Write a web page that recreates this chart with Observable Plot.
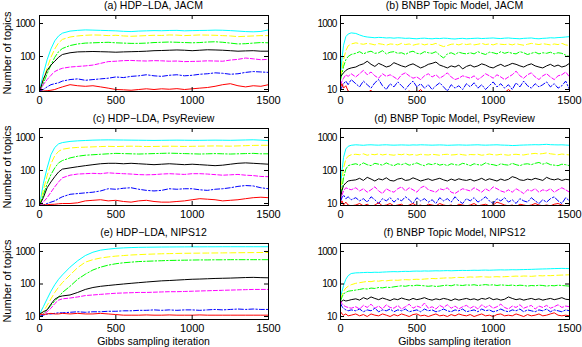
<!DOCTYPE html>
<html><head><meta charset="utf-8">
<script src="https://cdn.jsdelivr.net/npm/d3@7"></script>
<script src="https://cdn.jsdelivr.net/npm/@observablehq/plot@0.6"></script>
<style>
body{margin:0;background:#fff;}
#chart{position:relative;width:582px;height:347px;font-family:"Liberation Sans",Arial,sans-serif;color:#000;overflow:hidden;}
#chart svg{position:absolute;}
.title,.xlab{position:absolute;font-size:10.5px;white-space:nowrap;transform:translate(-50%,-50%);}
.ylab{position:absolute;font-size:11px;white-space:nowrap;transform:translate(-50%,-50%) rotate(-90deg);}
g[aria-label="y-axis tick label"] text{letter-spacing:-0.8px;}
</style></head><body><div id="chart"></div>
<script>
// ---------- data ----------
const xTickValues = [0, 500, 1000, 1500];
const yTickValues = [10, 100, 1000];
const titles = ["(a) HDP\u2212LDA, JACM", "(b) BNBP Topic Model, JACM", "(c) HDP\u2212LDA, PsyReview",
                "(d) BNBP Topic Model, PsyReview", "(e) HDP\u2212LDA, NIPS12", "(f) BNBP Topic Model, NIPS12"];
const yLabel = "Number of topics";
const xLabel = "Gibbs sampling iteration";

const iterHDP = [1, 25, 50, 75, 100, 125, 150, 200, 250, 300, 350, 400, 450, 500, 550, 600, 650, 700, 750, 800,
  850, 900, 950, 1000, 1050, 1100, 1150, 1200, 1250, 1300, 1350, 1400, 1450, 1500];
const iterBNBP = [1, 10, 20, 35, 50, 70, 100, 125, 150, 175, 200, 225, 250, 275, 300, 325, 350, 375, 400, 425,
  450, 475, 500, 525, 550, 575, 600, 625, 650, 675, 700, 725, 750, 775, 800, 825, 850, 875, 900, 925, 950, 975,
  1000, 1025, 1050, 1075, 1100, 1125, 1150, 1175, 1200, 1225, 1250, 1275, 1300, 1325, 1350, 1375, 1400, 1425,
  1450, 1475, 1500];

// (a) HDP-LDA, JACM
const aCyan = [10,30,80,170,300,420,510, 590,620,640,630,620,610,600,580,570,590,600,610,605,615,620,600,610,615,620,630,625,610,590,570,560,575,640];
const aYellow = [9,20,45,95,170,260,330, 390,420,440,450,445,430,440,420,410,420,430,440,435,450,445,430,440,450,445,440,430,420,400,410,420,430,430];
const aGreen = [9,15,30,55,95,140,175, 215,240,255,260,265,270,260,255,250,250,255,265,270,275,270,265,260,265,275,280,270,255,240,245,255,265,260];
const aBlack = [9,20,38,55,72,95,115, 130,138,140,142,140,138,135,138,140,142,145,150,152,155,158,155,150,155,160,158,155,150,145,148,150,145,145];
const aMagenta = [9,14,20,27,35,40,44, 48,50,52,55,62,70,72,75,76,74,73,75,74,72,73,70,71,72,74,73,72,78,82,90,85,80,82];
const aBlue = [9,10,12,14,15,16,18, 20,21,19,20,21,22,24,23,25,26,28,26,25,27,28,26,27,29,30,32,31,29,30,33,35,34,33];
const aRed = [8.8,9,9.2,9.5,10,11,12, 14,13,12.5,13,12,11,10,9.8,9.5,10,10.5,10,10.5,10.2,10.6,10,10.5,11,11.5,12.5,14,15,13,12,13,12.5,14];

// (c) HDP-LDA, PsyReview
const cCyan = [9,40,120,300,500,640,700, 760,790,810,830,840,845,840,835,830,825,820,815,820,825,830,825,820,820,825,830,825,820,830,840,850,830,800];
const cYellow = [9,25,70,160,280,380,440, 480,500,510,520,530,540,530,540,545,540,530,535,540,545,540,535,540,545,550,555,550,545,555,565,575,580,580];
const cGreen = [9,18,40,75,120,170,200, 240,270,290,300,310,320,330,325,320,315,320,325,330,335,330,325,320,315,320,325,320,315,320,325,330,320,320];
const cBlack = [9,15,30,45,65,90,110, 120,130,140,150,160,165,165,160,165,160,155,150,155,160,155,150,155,150,145,140,145,155,165,170,165,160,155];
const cMagenta = [8.8,11,15,22,32,45,60, 72,78,80,82,80,85,82,80,78,75,74,75,78,80,78,76,80,80,78,75,72,74,76,72,70,66,65];
const cBlue = [8.8,9,10,11,12,14,16, 19,20,21,22,24,28,27,29,30,27,25,24,25,28,27,28,28,26,25,27,28,30,33,35,34,30,28];
const cRed = [8.8,9,9.2,9.4,9.5,9.8,10, 10,10.5,12,12.5,13,12,12.5,11.5,11,12,12.5,11.5,11,11,11.5,12,13,14,13.5,13,12,12.5,13,14,15,15.5,15];

// (e) HDP-LDA, NIPS12
const eCyan = [12,20,35,60,95,140,190, 330,520,750,950,1100,1180,1250,1290,1320,1340,1350,1360,1370,1375,1380,1385,1390,1390,1395,1395,1400,1400,1400,1400,1400,1400,1400];
const eYellow = [11,14,22,35,55,80,110, 190,320,470,560,630,680,720,750,780,800,820,835,850,860,870,880,885,890,895,900,905,910,915,920,925,930,930];
const eGreen = [10,12,16,22,30,40,55, 85,140,200,270,330,380,420,450,470,490,500,510,520,530,535,540,545,550,550,555,555,560,560,560,560,560,560];
const eBlack = [12,14,16,24,34,40,43, 46,55,68,78,85,90,95,100,105,110,115,120,125,128,132,136,140,142,145,148,150,152,155,158,160,157,155];
const eMagenta = [11,12,14,18,25,32,35, 37,40,44,46,48,50,52,53,54,55,55,56,57,58,58,59,60,61,62,63,64,65,66,67,68,68,68];
const eBlue = [10,11,12,12,12.5,13,13, 13.5,14,13.5,14,14,14.5,14.5,15,15,15.5,15.5,16,15.5,16,15.5,16,16,15.5,16,16.5,16,16.5,17,16.5,17,16.5,16.5];
const eRed = [12,11.5,12,12.5,12,12,12.5, 12,12.5,12,12,12.5,12,11.5,11,11,11,11.2,11,11,11.2,11,11,11,11.2,11,11,11,11,11,11,11,11,11];

// (b) BNBP, JACM
const bCyan = [30,90,220,400,480,520,
  500,450,410,390,380,370,380,375,365,370, 360,370,365,355,360,350,345,355,360,350,
  345,355,350,360,355,345,340,350,355,345, 350,355,360,350,355,360,365,355,350,360,
  365,355,350,345,355,360,365,350,345,355, 360,370,365,375,380,390,400];
const bYellow = [25,40,80,150,210,240,
  260,245,235,250,240,225,245,235,220,240, 235,225,250,230,240,220,235,245,225,240,
  230,250,220,200,215,235,240,225,245,230, 240,225,235,250,230,240,225,245,235,230,
  240,225,245,230,220,235,250,240,230,245, 235,225,240,230,250,225,215];
const bGreen = [20,30,50,80,100,115,
  125,140,120,135,145,125,130,150,120,135, 140,125,130,115,135,145,125,120,140,130,
  125,140,110,90,120,130,115,135,125,120, 130,120,140,125,115,135,130,120,140,125,
  135,125,120,140,130,115,125,135,120,130, 125,135,120,130,125,110,100];
const bBlack = [25,28,32,38,42,45,
  48,55,60,72,58,50,62,55,48,52, 65,58,52,48,55,60,52,45,50,58,
  62,68,55,50,45,52,48,55,42,50, 55,48,52,60,55,48,45,52,58,50,
  55,62,58,52,48,55,60,52,48,45, 52,58,50,55,48,52,62];
const bMagenta = [14,18,22,28,25,30,
  24,30,38,28,34,26,22,30,25,28, 24,20,28,32,26,22,24,20,26,30,
  24,28,22,26,32,24,20,22,26,24, 22,26,20,24,30,26,22,28,24,20,
  24,28,36,26,22,28,32,24,20,26, 30,24,20,26,28,34,24];
const bBlue = [10,12,15,18,14,20,
  15,12,18,14,11,16,20,13,10,15, 12,17,13,10,14,18,12,15,11,14,
  10,13,16,12,9,14,11,13,10,15, 12,16,11,14,10,13,17,12,15,11,
  14,10,16,12,18,13,11,15,12,14, 17,12,15,11,13,18,10];
const bRed = [12,15,11,13,9,8,
  7,8,7.5,8,9.5,7,8,7.5,8,7, 8,7.5,7,8,9,7,8,10,7.5,8,
  7,8,7.5,8,7,8.5,7,8,7.5,7, 8,7,7.5,8,7,8,7.5,8,7,8,
  10,8,7,7.5,8,7,8,7.5,7,8, 7.5,8,7,8,7.5,8,7];

// (d) BNBP, PsyReview
const dCyan = [30,100,250,450,540,580,
  600,590,580,595,600,590,585,595,600,590, 585,590,595,590,585,595,590,600,595,590,
  585,590,595,590,580,585,590,595,590,585, 590,595,600,590,585,590,595,600,590,585,
  580,570,575,585,590,595,600,605,600,610, 620,605,600,595,600,590,580];
const dYellow = [20,50,120,220,270,300,
  310,300,320,290,310,300,320,295,310,300, 290,310,300,320,295,305,290,310,300,295,
  310,300,290,305,310,295,300,315,300,290, 305,300,310,290,300,315,300,295,310,300,
  290,305,310,300,295,310,320,330,315,325, 340,320,310,300,315,305,295];
const dGreen = [18,30,60,110,140,150,
  160,145,170,150,140,165,155,145,170,150, 140,160,150,165,145,155,170,150,140,160,
  150,165,145,155,140,160,150,145,165,155, 140,160,150,145,170,155,150,140,160,150,
  145,165,150,140,155,160,150,165,175,155, 170,150,145,140,155,150,140];
const dBlack = [15,25,35,42,48,50,
  52,58,50,62,55,48,56,52,60,50, 48,55,58,50,52,60,54,48,52,56,
  50,54,58,52,48,55,50,56,52,50, 54,48,52,58,50,56,52,48,55,50,
  54,65,60,52,50,55,52,58,54,50, 62,55,52,56,50,54,52];
const dMagenta = [12,18,24,30,28,26,
  30,24,28,22,26,32,24,20,28,24, 22,28,32,24,30,26,22,30,34,26,
  24,22,28,26,30,22,20,24,28,26, 24,30,26,22,28,24,32,28,24,22,
  26,22,28,24,20,26,24,28,22,26, 24,28,22,26,30,26,22];
const dBlue = [12,15,18,14,16,13,
  15,12,14,11,16,13,10,14,12,15, 11,14,12,16,13,10,15,12,14,11,
  13,10,15,12,14,11,16,12,10,14, 12,15,11,13,16,12,10,14,12,15,
  11,13,10,14,12,11,15,12,10,13, 11,14,16,12,10,15,12];
const dRed = [10,12,9,11,9,8.5,
  9,10,8.5,9.5,8,9,10.5,8.5,9,10, 8.5,9,9.5,8,9,10,8.5,9,8,9.5,
  9,8.5,10,9,8.5,9,8,9.5,9,8.5, 9,10,8.5,9,9.5,8.5,9,11,10,9,
  8.5,9,8,9.5,9,8.5,9,10,9,8.5, 9,8.5,9.5,10,9,8.5,9];

// (f) BNBP, NIPS12
const fCyan = [40,60,90,140,180,210,
  220,222,225,228,226,230,228,232,235,238, 240,238,242,245,243,248,250,248,252,250,
  252,255,253,256,258,255,258,260,262,260, 262,265,263,266,268,265,268,270,272,270,
  272,275,273,276,278,280,282,285,288,290, 292,295,298,300,302,300,298];
const fYellow = [35,45,60,75,85,95,
  105,110,115,120,118,125,122,128,125,130, 132,130,134,136,134,138,140,138,142,145,
  148,146,150,152,155,153,158,160,158,162, 165,162,165,168,165,163,166,168,165,168,
  170,172,175,172,176,175,172,176,180,178, 182,180,184,186,188,190,192];
const fGreen = [30,40,50,55,60,62,
  65,68,72,70,75,73,78,76,80,78, 82,85,88,85,90,88,92,90,88,85,
  88,84,86,90,92,88,95,92,90,94, 92,95,90,93,96,92,95,90,94,92,
  90,93,88,92,90,86,90,88,92,90, 86,90,88,92,90,88,86];
const fBlack = [28,30,32,30,31,33,
  35,32,38,34,40,36,33,37,34,31, 35,33,37,34,32,36,33,35,38,34,
  32,35,33,36,34,31,35,32,34,36, 33,35,32,36,34,38,33,35,32,34,
  40,36,33,35,32,34,36,33,35,32, 34,36,33,35,38,34,33];
const fMagenta = [30,25,22,20,19,18,
  20,17,22,19,24,18,21,17,23,19, 18,22,17,20,24,18,21,19,26,18,
  20,17,22,19,23,18,21,17,20,22, 18,21,17,23,19,22,18,20,24,19,
  17,21,19,23,18,20,22,17,21,19, 22,18,20,23,19,21,20];
const fBlue = [25,20,18,16,15,16,
  15,17,14,16,15,18,14,16,15,17, 14,16,15,17,14,15,16,14,17,15,
  16,14,15,17,15,14,16,15,17,14, 15,16,14,17,15,16,14,15,17,15,
  14,16,15,17,14,16,15,14,16,15, 17,14,16,15,14,16,15];
const fRed = [14,12,11,12,10.5,11,
  12,10.5,11.5,10,12,11,10.5,12,11,10, 11.5,10.5,12,11,10,11.5,12,10.5,11,10,
  11,12,10.5,11,10,11.5,10.5,12,11,10.5, 11.5,10,11,12,10.5,11,10,11.5,12,10.5,
  11,10.5,12,11,10,11.5,10.5,11,12,10.5, 11,12,13,11,10.5,11,10.5];

// ---------- styles / layout ----------
const seriesStyle = [
  {stroke: "#00ffff", dash: null},
  {stroke: "#ffff00", dash: "6,3"},
  {stroke: "#00ff00", dash: "6,2,1.5,2"},
  {stroke: "#000000", dash: null},
  {stroke: "#ff00ff", dash: "4,2"},
  {stroke: "#0000ff", dash: "5,2,1.5,2"},
  {stroke: "#ff0000", dash: null}
];
const rowsCfg = [
  {top: 15, h: 76, domain: [8.7, 1750], titleY: 5},
  {top: 128, h: 77, domain: [8.7, 1870], titleY: 118},
  {top: 243, h: 76, domain: [8.1, 1760], titleY: 232}
];
const colsCfg = [
  {left: 0, ml: 39, mr: 22, yPad: 5},
  {left: 291, ml: 49, mr: 13, yPad: 4}
];
const plotW = 229;
const mt = 2, mb = 24;

const panels = [
  {row: 0, col: 0, iters: iterHDP, series: [aCyan, aYellow, aGreen, aBlack, aMagenta, aBlue, aRed]},
  {row: 0, col: 1, iters: iterBNBP, series: [bCyan, bYellow, bGreen, bBlack, bMagenta, bBlue, bRed]},
  {row: 1, col: 0, iters: iterHDP, series: [cCyan, cYellow, cGreen, cBlack, cMagenta, cBlue, cRed]},
  {row: 1, col: 1, iters: iterBNBP, series: [dCyan, dYellow, dGreen, dBlack, dMagenta, dBlue, dRed]},
  {row: 2, col: 0, iters: iterHDP, series: [eCyan, eYellow, eGreen, eBlack, eMagenta, eBlue, eRed]},
  {row: 2, col: 1, iters: iterBNBP, series: [fCyan, fYellow, fGreen, fBlack, fMagenta, fBlue, fRed]}
];

const chart = document.getElementById("chart");
panels.forEach((p, idx) => {
  const r = rowsCfg[p.row], c = colsCfg[p.col];
  const marks = [];
  p.series.forEach((vals, k) => {
    const st = seriesStyle[k];
    const n = Math.min(vals.length, p.iters.length);
    const data = [];
    for (let i = 0; i < n; i++) data.push({x: p.iters[i], y: vals[i]});
    const opts = {x: "x", y: "y", stroke: st.stroke, strokeWidth: 1, clip: true};
    if (st.dash) opts.strokeDasharray = st.dash;
    marks.push(Plot.line(data, opts));
  });
  marks.push(Plot.tickX(xTickValues, {x: d => d, insetTop: r.h - 4, stroke: "#000"}));
  marks.push(Plot.tickX(xTickValues, {x: d => d, insetBottom: r.h - 4, stroke: "#000"}));
  marks.push(Plot.tickY(yTickValues, {y: d => d, insetRight: plotW - 4, stroke: "#000"}));
  marks.push(Plot.tickY(yTickValues, {y: d => d, insetLeft: plotW - 4, stroke: "#000"}));
  marks.push(Plot.frame({stroke: "#000", strokeWidth: 1}));
  marks.push(Plot.axisX({ticks: xTickValues, tickSize: 0, tickPadding: 5, fontSize: 11, label: null, tickFormat: d => String(d)}));
  marks.push(Plot.axisY({ticks: yTickValues, tickSize: 0, tickPadding: c.yPad, fontSize: 10, label: null, tickFormat: d => String(d)}));
  const svg = Plot.plot({
    width: c.ml + plotW + c.mr,
    height: r.h + mt + mb,
    marginTop: mt, marginBottom: mb, marginLeft: c.ml, marginRight: c.mr,
    x: {domain: [0, 1500]},
    y: {type: "log", domain: r.domain},
    style: {fontFamily: "'Liberation Sans', Arial, sans-serif", fontSize: "10px", background: "transparent", color: "#000", overflow: "visible"},
    marks
  });
  svg.style.left = c.left + "px";
  svg.style.top = (r.top - mt) + "px";
  chart.appendChild(svg);

  const cx = c.left + c.ml + plotW / 2;
  const t = document.createElement("div");
  t.className = "title";
  t.textContent = titles[idx];
  t.style.left = cx + "px";
  t.style.top = r.titleY + "px";
  chart.appendChild(t);

  if (p.col === 0) {
    const yl = document.createElement("div");
    yl.className = "ylab";
    yl.textContent = yLabel;
    yl.style.left = "7px";
    yl.style.top = (r.top + r.h / 2) + "px";
    chart.appendChild(yl);
  }
  if (p.row === 2) {
    const xl = document.createElement("div");
    xl.className = "xlab";
    xl.textContent = xLabel;
    xl.style.left = cx + "px";
    xl.style.top = "341px";
    chart.appendChild(xl);
  }
});
</script></body></html>
